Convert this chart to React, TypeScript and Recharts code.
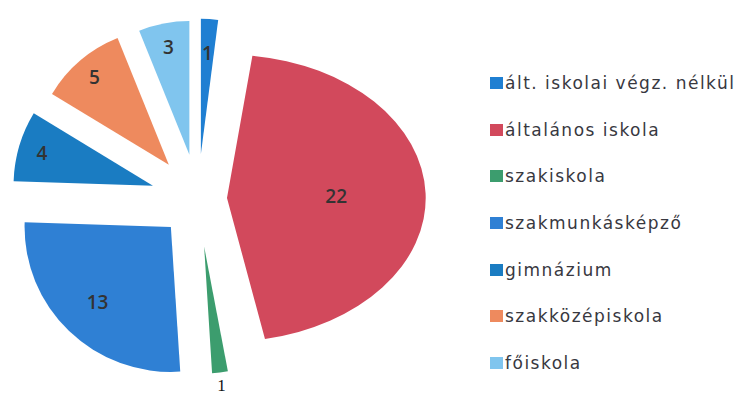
import React from 'react';
import { PieChart, Pie, Cell, Legend, Sector } from 'recharts';

const categories = [
  'ált. iskolai végz. nélkül',
  'általános iskola',
  'szakiskola',
  'szakmunkásképző',
  'gimnázium',
  'szakközépiskola',
  'főiskola',
];
const counts = [1, 22, 1, 13, 4, 5, 3];
const colors = ['#1f7fd2', '#d2495c', '#3c9d6e', '#2f80d4', '#1a7cc2', '#ee8a5e', '#80c5ee'];

// how far each slice is pulled out, its radius scale (x, y) and where its label sits
const sliceStyle = [
  { explode: 45, sx: 0.98, sy: 0.98, labelAt: 0.75 },
  { explode: 29, sx: 1.44, sy: 1.04, labelAt: 0.55 },
  { explode: 48, sx: 0.9, sy: 0.92, labelAt: 1.1 },
  { explode: 39, sx: 1.06, sy: 1.05, labelAt: 0.72 },
  { explode: 47, sx: 1.01, sy: 1.01, labelAt: 0.83 },
  { explode: 45, sx: 0.99, sy: 0.99, labelAt: 0.84 },
  { explode: 45, sx: 0.97, sy: 0.97, labelAt: 0.82 },
];

const data = categories.map((name, i) => ({ name, value: counts[i] }));

const RAD = Math.PI / 180;

const styleOf = (props: any) => {
  const name = props.name ?? props.payload?.name;
  const i = categories.indexOf(name);
  return { i, s: sliceStyle[i] ?? sliceStyle[0] };
};

const SliceShape = (props: any) => {
  const { cx, cy, midAngle, outerRadius, startAngle, endAngle, fill } = props;
  const { s } = styleOf(props);
  const dx = s.explode * Math.cos(-midAngle * RAD);
  const dy = s.explode * Math.sin(-midAngle * RAD);
  return (
    <g transform={`translate(${cx + dx} ${cy + dy}) scale(${s.sx} ${s.sy}) translate(${-cx} ${-cy})`}>
      <Sector
        cx={cx}
        cy={cy}
        innerRadius={0}
        outerRadius={outerRadius}
        startAngle={startAngle}
        endAngle={endAngle}
        fill={fill}
        stroke="none"
      />
    </g>
  );
};

const renderLabel = (props: any) => {
  const { cx, cy, midAngle, outerRadius, value } = props;
  const { i, s } = styleOf(props);
  const cos = Math.cos(-midAngle * RAD);
  const sin = Math.sin(-midAngle * RAD);
  const ax = cx + s.explode * cos;
  const ay = cy + s.explode * sin;
  const x = ax + s.labelAt * outerRadius * s.sx * cos;
  const y = ay + s.labelAt * outerRadius * s.sy * sin;
  const outside = s.labelAt > 1;
  return (
    <text
      key={`lbl-${i}`}
      x={x}
      y={y}
      textAnchor="middle"
      dominantBaseline="central"
      fontFamily={outside ? 'Liberation Serif' : 'Open Sans, DejaVu Sans'}
      fontSize={outside ? 17 : 19}
      fontWeight={outside ? 400 : 600}
      fill={outside ? '#111' : '#333'}
    >
      {value}
    </text>
  );
};

const LegendList = () => (
  <div style={{ fontFamily: 'DejaVu Sans', fontSize: 17, color: '#38383f', letterSpacing: '1.5px' }}>
    {categories.map((c, i) => (
      <div key={c} style={{ height: 46.6, display: 'flex', alignItems: 'center' }}>
        <span style={{ width: 13, height: 12, background: colors[i], marginRight: 2, flexShrink: 0 }} />
        <span style={{ whiteSpace: 'nowrap' }}>{c}</span>
      </div>
    ))}
  </div>
);

export default function App() {
  return (
    <div style={{ position: 'absolute', left: 0, top: 0, width: 742, height: 404, background: '#fff' }}>
      <PieChart width={742} height={404}>
        <Pie
          data={data}
          dataKey="value"
          nameKey="name"
          cx={193}
          cy={194}
          outerRadius={138}
          startAngle={90}
          endAngle={-270}
          stroke="none"
          shape={SliceShape}
          activeShape={SliceShape}
          inactiveShape={SliceShape}
          label={renderLabel}
          labelLine={false}
          isAnimationActive={false}
        >
          {data.map((d, i) => (
            <Cell key={d.name} fill={colors[i]} />
          ))}
        </Pie>
        <Legend
          layout="vertical"
          content={<LegendList />}
          wrapperStyle={{ position: 'absolute', left: 490, top: 60, width: 252 }}
        />
      </PieChart>
    </div>
  );
}
